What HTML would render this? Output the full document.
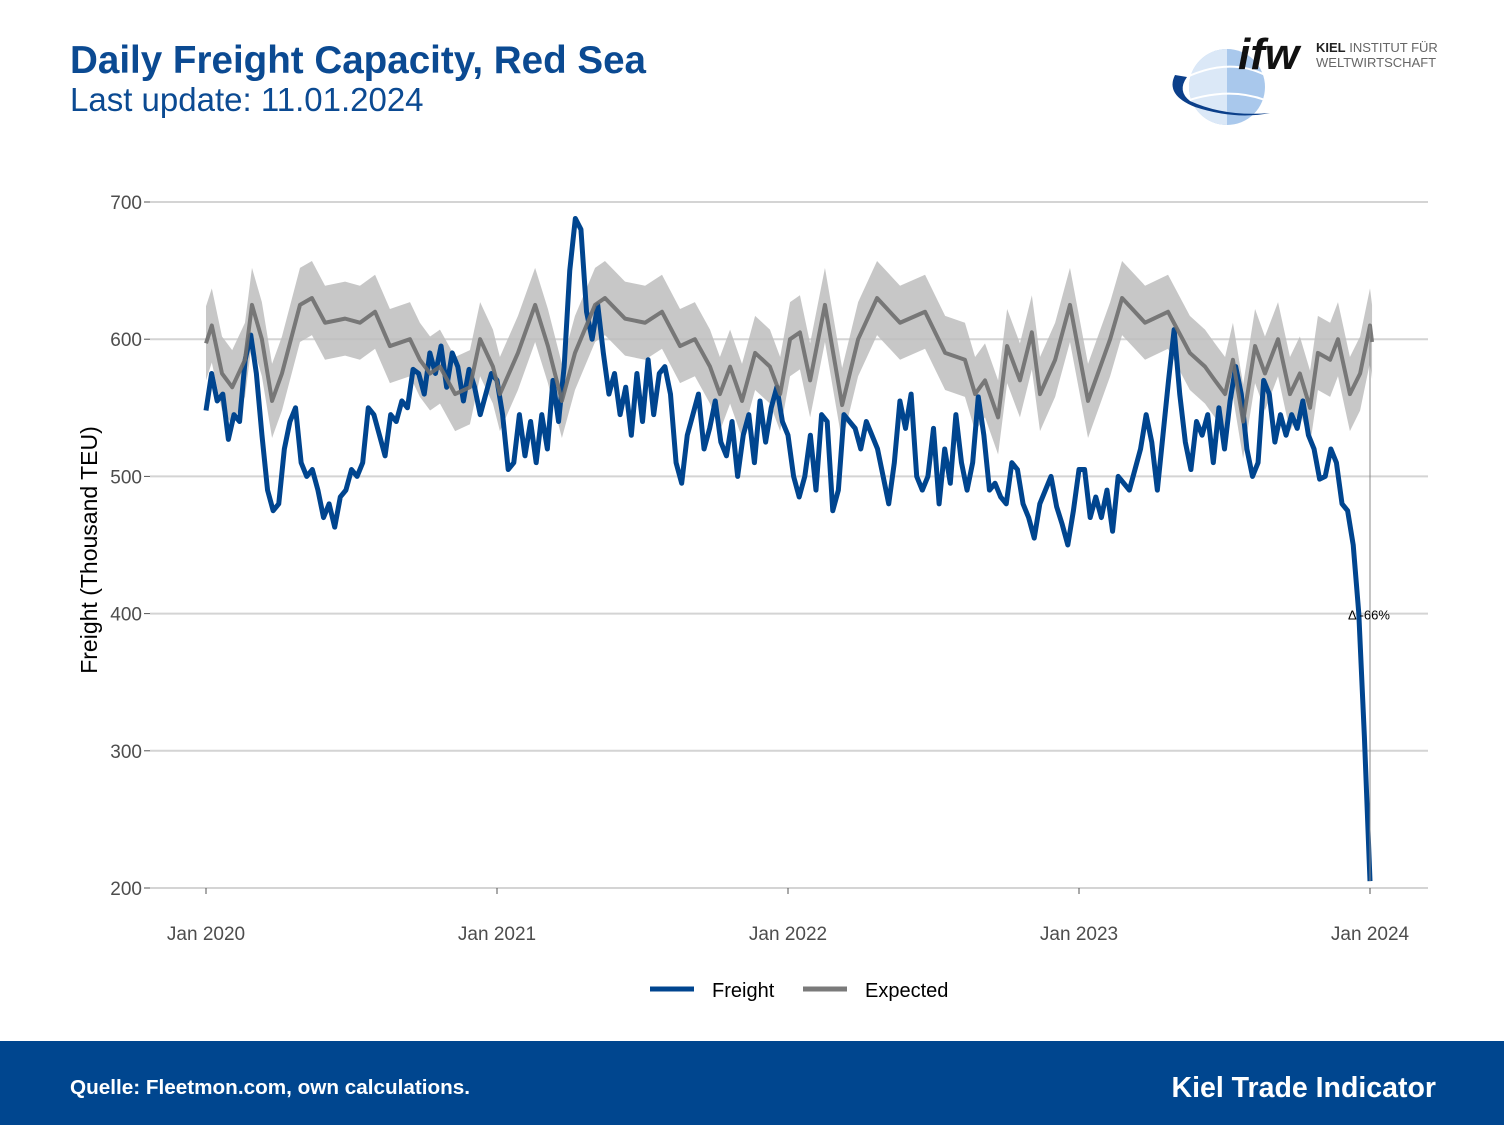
<!DOCTYPE html>
<html><head><meta charset="utf-8">
<style>
body{margin:0;width:1504px;height:1125px;background:#fff;font-family:"Liberation Sans",sans-serif;overflow:hidden;position:relative}
.title{position:absolute;left:70px;top:39px;font-size:38.6px;font-weight:bold;color:#0b4a92}
.sub{position:absolute;left:70px;top:81px;font-size:33px;color:#0b4a92}
.footer{position:absolute;left:0;top:1041px;width:1504px;height:84px;background:#00468f;color:#fff}
</style></head><body>
<div class="title">Daily Freight Capacity, Red Sea</div>
<div class="sub">Last update: 11.01.2024</div>
<svg style="position:absolute;left:1165px;top:25px" width="290" height="110">
<circle cx="62" cy="62" r="38" fill="#a9c8ec"/>
<path d="M62 24 A38 38 0 0 0 62 100 Z" fill="#dbe8f7"/>
<path d="M10 58 Q60 30 100 50 M10 80 Q60 60 100 75" stroke="#fff" stroke-width="2" fill="none"/>
<path d="M10 50 Q0 70 30 82 Q70 95 105 88 Q60 92 25 76 Q12 66 22 52 Z" fill="#0b3f8a"/>
<text x="73" y="44" font-size="44" font-style="italic" font-weight="bold" fill="#111" font-family="Liberation Sans,sans-serif">ifw</text>
<text x="151" y="27" font-size="13" fill="#666"><tspan font-weight="bold" fill="#222">KIEL</tspan> INSTITUT FÜR</text>
<text x="151" y="42" font-size="13" fill="#666">WELTWIRTSCHAFT</text>
</svg>
<svg id="chart" style="position:absolute;left:0;top:0" width="1504" height="1040"></svg>
<div class="footer">
<div style="position:absolute;left:70px;top:35px;font-size:20.7px;font-weight:bold">Quelle: Fleetmon.com, own calculations.</div>
<div style="position:absolute;right:68px;top:31px;font-size:28.5px;font-weight:bold">Kiel Trade Indicator</div>
</div>
<script>
const yTicks=[200,300,400,500,600,700];
const xTickLabels=["Jan 2020","Jan 2021","Jan 2022","Jan 2023","Jan 2024"];
const xTickYears=[0,1,2,3,4];
const expDates=[0,.02,.055,.09,.134,.158,.192,.227,.261,.323,.364,.409,.478,.529,.581,.632,.701,.735,.77,.804,.856,.907,.942,.986,1.01,1.072,1.131,1.175,1.223,1.268,1.337,1.371,1.44,1.509,1.567,1.629,1.68,1.732,1.766,1.801,1.842,1.887,1.938,1.973,2.007,2.041,2.076,2.127,2.186,2.241,2.306,2.385,2.471,2.54,2.608,2.643,2.677,2.722,2.753,2.797,2.838,2.866,2.918,2.969,3.031,3.107,3.148,3.227,3.306,3.381,3.433,3.467,3.502,3.529,3.564,3.605,3.639,3.684,3.725,3.759,3.794,3.821,3.863,3.89,3.931,3.966,4.0,4.007];
const expValues=[597,610,575,565,585,625,600,555,575,625,630,612,615,612,620,595,600,585,575,580,560,565,600,580,560,590,625,595,555,590,625,630,615,612,620,595,600,580,560,580,555,590,580,560,600,605,570,625,552,600,630,612,620,590,585,560,570,543,595,570,605,560,585,625,555,600,630,612,620,590,580,570,560,585,540,595,575,600,560,575,550,590,585,600,560,575,610,598];
const bandHalf=27;
const freightValues=[548,575,555,560,527,545,540,585,603,575,530,490,475,480,520,540,550,510,500,505,490,470,480,463,485,490,505,500,510,550,545,530,515,545,540,555,550,578,575,560,590,575,595,565,590,580,555,578,565,545,560,575,570,545,505,510,545,515,540,510,545,520,570,540,580,650,688,680,620,600,625,590,560,575,545,565,530,575,540,585,545,575,580,560,510,495,530,545,560,520,535,555,525,515,540,500,530,545,510,555,525,550,565,540,530,500,485,500,530,490,545,540,475,490,545,540,535,520,540,530,520,500,480,510,555,535,560,500,490,500,535,480,520,495,545,510,490,510,558,530,490,495,485,480,510,505,480,470,455,480,490,500,478,465,450,475,505,505,470,485,470,490,460,500,495,490,505,520,545,525,490,530,570,607,560,525,505,540,530,545,510,550,520,555,580,560,520,500,510,570,560,525,545,530,545,535,555,530,520,498,500,520,510,480,475,450,400,310,205];
const NS="http://www.w3.org/2000/svg";
const svg=document.getElementById('chart');
const x0=206,x1=1370,yTop=202,yBot=888;
const xs=t=>x0+(x1-x0)*t/4;
const ys=v=>yBot-(v-200)*(yBot-yTop)/500;
function mk(tag,attrs,parent){const e=document.createElementNS(NS,tag);for(const k in attrs)e.setAttribute(k,attrs[k]);(parent||svg).appendChild(e);return e;}
yTicks.forEach(v=>{
 const g=mk('line',{x1:150,x2:1428,y1:ys(v),y2:ys(v),stroke:'#d4d4d4','stroke-width':2});
 
 
 const tk=mk('line',{x1:144,x2:150,y1:ys(v),y2:ys(v),stroke:'#555','stroke-width':1});
 
 
 const t=mk('text',{x:142,y:ys(v)+7,'text-anchor':'end','font-size':19,fill:'#4d4d4d'});t.textContent=v;
 
 
});
xTickYears.forEach((yr,i)=>{
 const tk=mk('line',{x1:xs(yr),x2:xs(yr),y1:888,y2:894,stroke:'#555','stroke-width':1});
 
 
 const t=mk('text',{x:xs(yr),y:940,'text-anchor':'middle','font-size':19,fill:'#4d4d4d'});t.textContent=xTickLabels[i];
 
 
});
const yt=mk('text',{x:97,y:550,'text-anchor':'middle','font-size':23,fill:'#000',transform:'rotate(-90 97 550)'});yt.textContent='Freight (Thousand TEU)';


let up=expDates.map((d,i)=>xs(d)+','+ys(expValues[i]+bandHalf));
let lo=expDates.map((d,i)=>xs(d)+','+ys(expValues[i]-bandHalf)).reverse();
const band=mk('polygon',{points:up.concat(lo).join(' '),fill:'#bdbdbd','fill-opacity':0.85});


const fl=mk('polyline',{points:freightValues.map((v,i)=>xs(4*i/(freightValues.length-1))+','+ys(v)).join(' '),fill:'none',stroke:'#00458f','stroke-width':5,'stroke-linejoin':'round'});


const el=mk('polyline',{points:expDates.map((d,i)=>xs(d)+','+ys(expValues[i])).join(' '),fill:'none',stroke:'#6e6e6e','stroke-width':4,'stroke-opacity':0.9,'stroke-linejoin':'round'});


const lastExp=expValues[expValues.length-2], lastF=freightValues[freightValues.length-1];
const dl=mk('line',{x1:xs(4),x2:xs(4),y1:ys(lastExp),y2:ys(lastF),stroke:'#888','stroke-width':1});


const dt=mk('text',{x:xs(4)-22,y:ys(400)+6,'font-size':13,fill:'#000'});dt.textContent='Δ -66%';


const l1=mk('line',{x1:650,x2:694,y1:989,y2:989,stroke:'#00458f','stroke-width':5});


const lt1=mk('text',{x:712,y:997,'font-size':20,fill:'#000'});lt1.textContent='Freight';


const l2=mk('line',{x1:803,x2:847,y1:989,y2:989,stroke:'#7a7a7a','stroke-width':5});


const lt2=mk('text',{x:865,y:997,'font-size':20,fill:'#000'});lt2.textContent='Expected';


</script>
</body></html>
